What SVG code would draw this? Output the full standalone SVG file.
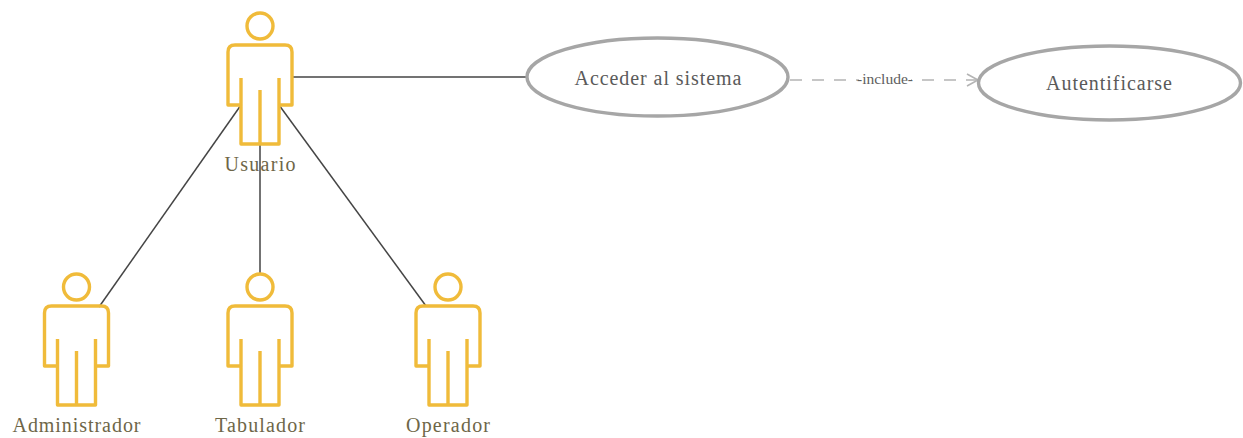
<svg xmlns="http://www.w3.org/2000/svg" width="1243" height="438" viewBox="0 0 1243 438">
<style>
.actor{fill:none;stroke:#f0bb3a;stroke-width:3.4;stroke-linejoin:round}
.assoc{fill:none;stroke:#454545;stroke-width:1.5}
.dash{fill:none;stroke:#b4b4b4;stroke-width:1.6;stroke-dasharray:12 10}
.uc{fill:#fff;stroke:#a6a6a6;stroke-width:3.4}
.name{font-family:"Liberation Serif","Times New Roman",serif;font-size:20px;fill:#6e6648;text-anchor:middle}
.ucl{font-family:"Liberation Serif","Times New Roman",serif;font-size:20px;fill:#5a5a5a;text-anchor:middle}
.inc{font-family:"Liberation Serif","Times New Roman",serif;font-size:14px;fill:#5e5e5e;text-anchor:middle}
</style>
<defs>
<g id="actor-shape" class="actor">
<circle cx="0" cy="26" r="13"/>
<path d="M-19 105H-32V52Q-32 45-25 45H25Q32 45 32 52V105H19M-19 78V144H19V78M0 90V144"/>
</g>
<marker id="open" markerWidth="14" markerHeight="16" refX="12" refY="7" orient="auto" markerUnits="userSpaceOnUse"><path d="M1 1L12 7L1 13" fill="none" stroke="#b4b4b4" stroke-width="1.6"/></marker>
</defs>
<rect width="1243" height="438" fill="#fff"/>
<g id="connectors">
<path class="assoc" d="M292 77H528"/>
<path class="assoc" d="M241 105L99 307"/>
<path class="assoc" d="M260 144V274"/>
<path class="assoc" d="M279 105L426 306"/>
<path class="dash" d="M790 80H978" marker-end="url(#open)"/>
</g>
<g id="usuario"><use href="#actor-shape" x="260" y="0"/><text class="name" x="260" y="171" textLength="71">Usuario</text></g>
<g id="administrador"><use href="#actor-shape" x="76.5" y="261"/><text class="name" x="76.5" y="432" textLength="128">Administrador</text></g>
<g id="tabulador"><use href="#actor-shape" x="260" y="261"/><text class="name" x="260" y="432" textLength="90">Tabulador</text></g>
<g id="operador"><use href="#actor-shape" x="448" y="261"/><text class="name" x="448" y="432" textLength="84">Operador</text></g>
<g id="acceder"><ellipse class="uc" cx="657.5" cy="77" rx="130.5" ry="39"/><text class="ucl" x="658" y="85" textLength="167">Acceder al sistema</text></g>
<g id="autentificarse"><ellipse class="uc" cx="1109.5" cy="83" rx="131" ry="37"/><text class="ucl" x="1109" y="90" textLength="126">Autentificarse</text></g>
<g id="include-label"><rect x="859" y="72" width="52" height="16" fill="#fff"/><text class="inc" x="885" y="84" textLength="56" lengthAdjust="spacingAndGlyphs">-include-</text></g>
</svg>
